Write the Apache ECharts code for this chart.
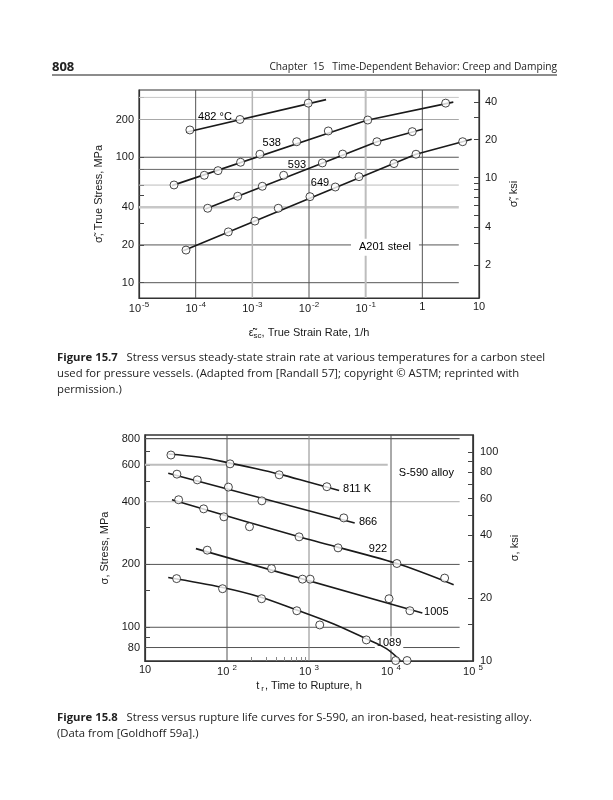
<!DOCTYPE html>
<html><head><meta charset="utf-8">
<script src="https://cdn.jsdelivr.net/npm/echarts@6/dist/echarts.min.js"></script>
<style>html,body{margin:0;padding:0;background:#fff}#c{width:613px;height:800px}</style>
</head><body><div id="c"></div>
<script>
// ================= Figure 15.7 : strain rate (1/h) vs true stress (MPa) =================
const rateTicks    = [1e-5, 1e-4, 1e-3, 1e-2, 1e-1, 1, 10];
const stressLabels1 = [10, 20, 40, 100, 200];
const stressTicks1  = [10, 20, 30, 40, 50, 60, 80, 100, 200, 300];
const ksiLabels1    = [2, 4, 10, 20, 40];
const ksiTicks1     = [2, 3, 4, 5, 6, 7, 8, 9, 10, 20, 30, 40];
const hGrid1 = [300, 200, 100, 80, 60, 40, 20, 10];
const vGrid1 = [1e-4, 1e-3, 1e-2, 1e-1, 1];

const pts482 = [[7.9e-5,165],[6.05e-4,200],[9.7e-3,270]];
const fit482 = [[6.8e-5,158],[2.0e-2,288]];
const pts538 = [[4.15e-5,60.1],[1.42e-4,71.8],[2.48e-4,78.2],[6.2e-4,91.2],[1.36e-3,105.7],[6.07e-3,133],[2.19e-2,162],[0.109,198],[2.58,270]];
const fit538 = [[3.8e-5,59.4],[0.105,197],[3.52,275]];
const pts593 = [[1.63e-4,39.2],[5.52e-4,48.9],[1.5e-3,58.7],[3.57e-3,71.8],[1.72e-2,90.1],[3.93e-2,106],[0.158,133],[0.665,160]];
const fit593 = [[1.48e-4,38.7],[0.158,133],[1.01,167]];
const pts649 = [[6.75e-5,18.2],[3.77e-4,25.4],[1.11e-3,31],[2.87e-3,39.2],[1.04e-2,48.5],[2.91e-2,57.9],[7.62e-2,70],[0.316,89],[0.773,105.7],[5.15,133]];
const fit649 = [[6.05e-5,18.0],[0.773,105.7],[7.43,139]];
const labels1 = [['482 °C',2.19e-4,209.6],['538',2.2e-3,129],['593',6.14e-3,86.8],['649',1.56e-2,62.1],['A201 steel',0.219,19.2]];

// ================= Figure 15.8 : time to rupture (h) vs stress (MPa) =================
const timeTicks     = [10, 100, 1000, 10000, 100000];
const timeMinor     = [200, 300, 400, 500, 600, 700, 800, 900];
const stressLabels2 = [80, 100, 200, 400, 600, 800];
const stressTicks2  = [80, 90, 100, 150, 200, 300, 400, 500, 600, 700, 800];
const ksiLabels2    = [10, 20, 40, 60, 80, 100];
const ksiTicks2     = [10, 15, 20, 30, 40, 50, 60, 70, 80, 90, 100];
const hGrid2 = [800, 600, 400, 200, 100, 80];
const vGrid2 = [100, 1000, 10000];

const pts811 = [[20.7,668],[109,606],[433,537],[1650,471]];
const fit811 = [[19.2,676],[46.8,652],[109,611],[229,574],[433,541],[933,499],[2330,452]];
const pts866 = [[24.5,541],[43.4,508],[104,469],[266,403],[2655,334]];
const fit866 = [[19.2,547],[3610,316]];
const pts922 = [[25.7,408],[51.9,369],[91.6,338],[188,303],[757,271],[2260,240],[11800,202],[45100,172]];
const fit922 = [[21.3,408],[757,271],[11800,202],[58100,160]];
const pts1005 = [[57.4,234],[349,191],[833,170],[1033,170],[9460,137],[17000,120]];
const fit1005 = [[41.8,238],[24100,117]];
const pts1089 = [[24.3,171],[88.3,153],[264,137],[710,120],[1352,102.6],[5000,87],[11400,69.3],[15700,69.3]];
const fit1089 = [[19.2,173],[88.3,155],[264,139],[710,121],[1970,104],[5010,88],[8790,79],[13000,69.3]];
const labels2 = [['811 K',3855,461],['866',5250,318],['922',6950,238],['1005',35700,118.7],['1089',9460,84.2],['S-590 alloy',27000,551]];

const KSI = 6.895; // MPa per ksi
const y1Range = [7.55, 343.6], x1Range = [1e-5, 10];
const y2Range = [68.95, 833],  x2Range = [10, 1e5];

const FONT = '"Liberation Sans", Arial, sans-serif';
const CAP = '"Open Sans", sans-serif';
const INK = '#1a1a1a';

// ---------- gridline styles ----------
const h1Style = {300:['#c6c6c6',1],200:['#a8a8a8',1.2],100:['#555',1],80:['#666',1],60:['#bcbcbc',1],40:['#c8c8c8',2.5],20:['#555',1],10:['#555',1]};
const v1Style = {1e-4:['#555',1],1e-3:['#b5b5b5',1.5],1e-2:['#555',1],1e-1:['#bdbdbd',2],1:['#555',1]};
const h2Style = {800:['#555',1.2],600:['#bdbdbd',2],400:['#bdbdbd',1.2],200:['#555',1],100:['#555',1],80:['#555',1]};
const v2Style = {100:['#555',1],1000:['#888',1],10000:['#555',1]};
const g1End = 4.4, g2End = 68700, g2End600 = 9120;

const series = [];
function gridSeg(a, b, xi, yi, st) {
  series.push({type:'line', xAxisIndex:xi, yAxisIndex:yi, data:[a,b], symbol:'none', silent:true, z:1,
    lineStyle:{color:st[0], width:st[1]}, animation:false});
}
hGrid1.forEach(v => gridSeg([x1Range[0], v], [g1End, v], 0, 0, h1Style[v]));
vGrid1.forEach(v => gridSeg([v, y1Range[0]], [v, y1Range[1]], 0, 0, v1Style[v]));
hGrid2.forEach(v => gridSeg([x2Range[0], v], [v === 600 ? g2End600 : g2End, v], 1, 2, h2Style[v]));
vGrid2.forEach(v => gridSeg([v, y2Range[0]], [v, y2Range[1]], 1, 2, v2Style[v]));

function fit(data, xi, yi, smooth) {
  series.push({type:'line', xAxisIndex:xi, yAxisIndex:yi, data, symbol:'none', smooth: smooth || false, z:3,
    lineStyle:{color:INK, width:1.6}, silent:true, animation:false});
}
function pts(data, xi, yi) {
  series.push({type:'scatter', xAxisIndex:xi, yAxisIndex:yi, data, symbol:'circle', symbolSize:8, z:4,
    itemStyle:{color:'#fff', borderColor:INK, borderWidth:1}, silent:true, animation:false});
}
function labs(list, xi, yi) {
  series.push({type:'scatter', xAxisIndex:xi, yAxisIndex:yi, symbolSize:1, z:2, silent:true, animation:false,
    itemStyle:{color:'#fff', opacity:1},
    data: list.map(l => {
      const boxed = (l[0] === 'A201 steel' || l[0] === '1089');
      return {name:l[0], value:[l[1], l[2]], label:{show:true, position:'inside', formatter:'{b}', color:'#000',
        opacity:1, textBorderWidth:0, textShadowBlur:0,
        fontFamily:FONT, fontSize:11, backgroundColor: boxed ? '#fff' : 'transparent',
        padding: l[0] === 'A201 steel' ? [3,8] : (boxed ? [1,2] : 0)}};
    })});
}
fit(fit482,0,0); fit(fit538,0,0); fit(fit593,0,0); fit(fit649,0,0);
pts(pts482,0,0); pts(pts538,0,0); pts(pts593,0,0); pts(pts649,0,0);
labs(labels1,0,0);
fit(fit811,1,2,0.35); fit(fit866,1,2); fit(fit922,1,2,0.3); fit(fit1005,1,2); fit(fit1089,1,2,0.35);
pts(pts811,1,2); pts(pts866,1,2); pts(pts922,1,2); pts(pts1005,1,2); pts(pts1089,1,2);
labs(labels2,1,2);

const supRich = {
  n:{fontFamily:FONT, fontSize:11, color:INK},
  s:{fontFamily:FONT, fontSize:8, color:INK, padding:[0,0,8,1]}
};
function powFmt(v, spaced) {
  const e = Math.round(Math.log10(v));
  if (e === 0) return '{n|1}';
  if (e === 1) return '{n|10}';
  return '{n|10}{s|' + (spaced ? ' ' : '') + e + '}';
}
const tickBase = {show:true, inside:true, length:5, lineStyle:{color:'#444', width:1}};
const axLine = {show:true, lineStyle:{color:'#333', width:1.2}};
const yLab = {fontFamily:FONT, fontSize:11, color:INK};
const capFont = '11.3px ' + CAP;

const option = {
  animation:false,
  backgroundColor:'#fff',
  grid:[
    {left:139, top:90, width:340, height:208, show:true, borderColor:'#333', borderWidth:1.2, backgroundColor:'transparent'},
    {left:145, top:435, width:328, height:226, show:true, borderColor:'#333', borderWidth:1.6, backgroundColor:'transparent'}
  ],
  xAxis:[
    {type:'log', gridIndex:0, min:x1Range[0], max:x1Range[1], logBase:10,
     axisLine:axLine, axisTick:{show:false}, splitLine:{show:false}, minorTick:{show:false},
     axisLabel:{customValues:rateTicks, margin:3, formatter:v => powFmt(v,false), rich:supRich},
     name:'{a|ε\u0303\u0307}{b|sc}{a|, True Strain Rate, 1/h}', nameLocation:'middle', nameGap:27,
     nameTextStyle:{rich:{a:{fontFamily:FONT, fontSize:11, color:INK}, b:{fontFamily:FONT, fontSize:8, color:INK, padding:[7,0,0,0]}}}},
    {type:'log', gridIndex:1, min:x2Range[0], max:x2Range[1], logBase:10,
     axisLine:axLine, splitLine:{show:false},
     axisTick:Object.assign({}, tickBase, {customValues:timeMinor, length:4, lineStyle:{color:'#888', width:1}}),
     axisLabel:{customValues:timeTicks, margin:3, formatter:v => powFmt(v,true), rich:supRich},
     name:'{a|t}{b|r}{a|, Time to Rupture, h}', nameLocation:'middle', nameGap:18,
     nameTextStyle:{rich:{a:{fontFamily:FONT, fontSize:11, color:INK}, b:{fontFamily:FONT, fontSize:8, color:INK, padding:[6,1,0,2]}}}}
  ],
  yAxis:[
    {type:'log', gridIndex:0, min:y1Range[0], max:y1Range[1], logBase:10, position:'left',
     axisLine:axLine, splitLine:{show:false},
     axisTick:Object.assign({}, tickBase, {customValues:stressTicks1}),
     axisLabel:Object.assign({customValues:stressLabels1, margin:5}, yLab),
     name:'σ\u0303, True Stress, MPa', nameLocation:'middle', nameGap:23, nameRotate:90,
     nameTextStyle:{fontFamily:FONT, fontSize:11, color:INK}},
    {type:'log', gridIndex:0, min:y1Range[0]/KSI, max:y1Range[1]/KSI, logBase:10, position:'right',
     axisLine:axLine, splitLine:{show:false},
     axisTick:Object.assign({}, tickBase, {customValues:ksiTicks1}),
     axisLabel:Object.assign({customValues:ksiLabels1, margin:6}, yLab),
     name:'σ\u0303, ksi', nameLocation:'middle', nameGap:22, nameRotate:90,
     nameTextStyle:{fontFamily:FONT, fontSize:11, color:INK}},
    {type:'log', gridIndex:1, min:y2Range[0], max:y2Range[1], logBase:10, position:'left',
     axisLine:axLine, splitLine:{show:false},
     axisTick:Object.assign({}, tickBase, {customValues:stressTicks2}),
     axisLabel:Object.assign({customValues:stressLabels2, margin:5}, yLab),
     name:'σ, Stress, MPa', nameLocation:'middle', nameGap:25, nameRotate:90,
     nameTextStyle:{fontFamily:FONT, fontSize:11, color:INK}},
    {type:'log', gridIndex:1, min:y2Range[0]/KSI, max:y2Range[1]/KSI, logBase:10, position:'right',
     axisLine:axLine, splitLine:{show:false},
     axisTick:Object.assign({}, tickBase, {customValues:ksiTicks2}),
     axisLabel:Object.assign({customValues:ksiLabels2, margin:7}, yLab),
     name:'σ, ksi', nameLocation:'middle', nameGap:22, nameRotate:90,
     nameTextStyle:{fontFamily:FONT, fontSize:11, color:INK}}
  ],
  graphic:[
    {type:'text', x:52, y:67, silent:true, style:{text:'808', font:'bold 13px ' + CAP, fill:'#222', textVerticalAlign:'middle', verticalAlign:'middle'}},
    {type:'text', x:557, y:67, silent:true, style:{text:'Chapter  15   Time-Dependent Behavior: Creep and Damping', font:'10.2px ' + CAP, fill:'#222',
      textAlign:'right', align:'right', textVerticalAlign:'middle', verticalAlign:'middle'}},
    {type:'line', silent:true, shape:{x1:52, y1:75, x2:557, y2:75}, style:{stroke:'#666', lineWidth:1.5}},
    {type:'text', x:57, y:358, silent:true, style:{text:'{b|Figure 15.7}{r|   Stress versus steady-state strain rate at various temperatures for a carbon steel}',
      rich:{b:{font:'bold ' + capFont, fill:'#222'}, r:{font:capFont, fill:'#222'}}, textVerticalAlign:'middle', verticalAlign:'middle'}},
    {type:'text', x:57, y:374, silent:true, style:{text:'used for pressure vessels. (Adapted from [Randall 57]; copyright © ASTM; reprinted with',
      font:capFont, fill:'#222', textVerticalAlign:'middle', verticalAlign:'middle'}},
    {type:'text', x:57, y:390, silent:true, style:{text:'permission.)', font:capFont, fill:'#222', textVerticalAlign:'middle', verticalAlign:'middle'}},
    {type:'text', x:57, y:718, silent:true, style:{text:'{b|Figure 15.8}{r|   Stress versus rupture life curves for S-590, an iron-based, heat-resisting alloy.}',
      rich:{b:{font:'bold ' + capFont, fill:'#222'}, r:{font:capFont, fill:'#222'}}, textVerticalAlign:'middle', verticalAlign:'middle'}},
    {type:'text', x:57, y:734, silent:true, style:{text:'(Data from [Goldhoff 59a].)', font:capFont, fill:'#222', textVerticalAlign:'middle', verticalAlign:'middle'}}
  ],
  series
};
const chart = echarts.init(document.getElementById('c'), null, {renderer:'canvas', width:613, height:800});
chart.setOption(option);
</script></body></html>
